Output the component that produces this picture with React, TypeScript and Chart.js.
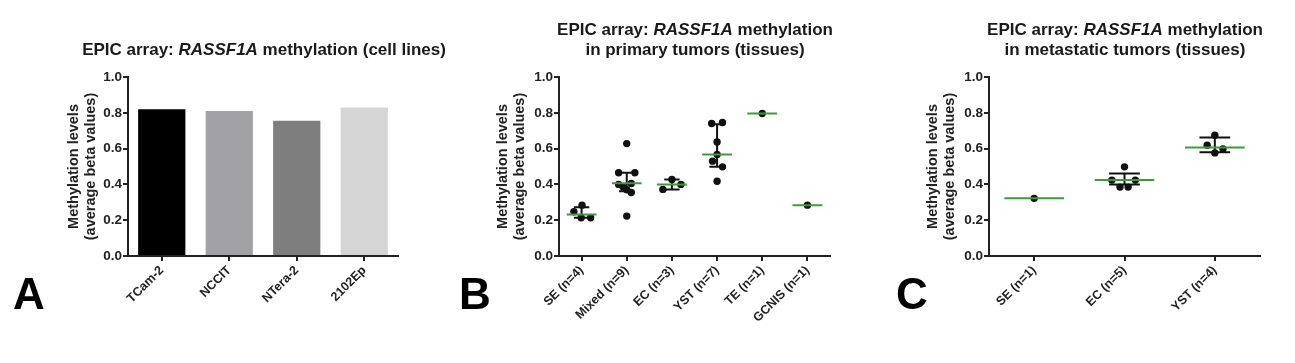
import React, { useEffect, useRef } from 'react';
import { Chart, registerables } from 'chart.js';

Chart.register(...registerables);

// ---------- data ----------
const cellLines = ['TCam-2', 'NCCIT', 'NTera-2', '2102Ep'];
const cellLineValues = [0.82, 0.81, 0.756, 0.83];
const cellLineColors = ['#000000', '#a2a2a6', '#7e7e7e', '#d5d5d5'];

const primaryCategories = ['SE (n=4)', 'Mixed (n=9)', 'EC (n=3)', 'YST (n=7)', 'TE (n=1)', 'GCNIS (n=1)'];
const primaryValues = [
  [0.247, 0.284, 0.214, 0.214],
  [0.628, 0.465, 0.465, 0.405, 0.4, 0.385, 0.37, 0.355, 0.223],
  [0.428, 0.4, 0.372],
  [0.74, 0.746, 0.637, 0.567, 0.53, 0.498, 0.418],
  [0.796],
  [0.284],
];
const primaryJitter = [
  [-0.17, 0.01, -0.01, 0.2],
  [0, -0.18, 0.18, 0.1, -0.18, -0.08, 0.0, 0.1, 0],
  [0, 0.2, -0.2],
  [-0.12, 0.12, 0, 0, -0.1, 0.12, 0],
  [0],
  [0],
];
const primaryMedians = [0.232, 0.407, 0.4, 0.567, 0.796, 0.284];
const primaryLower = [0.214, 0.362, 0.372, 0.498, null, null];
const primaryUpper = [0.272, 0.465, 0.428, 0.736, null, null];

const metastaticCategories = ['SE (n=1)', 'EC (n=5)', 'YST (n=4)'];
const metastaticValues = [
  [0.322],
  [0.498, 0.424, 0.424, 0.385, 0.385],
  [0.675, 0.619, 0.598, 0.576],
];
const metastaticJitter = [
  [0],
  [0, -0.14, 0.12, -0.05, 0.04],
  [0, -0.085, 0.09, 0],
];
const metastaticMedians = [0.322, 0.424, 0.606];
const metastaticLower = [null, 0.4, 0.58];
const metastaticUpper = [null, 0.461, 0.662];

const yAxisTitle = ['Methylation levels', '(average beta values)'];

// ---------- styles ----------
const FONT = "'Liberation Sans', Arial, sans-serif";
const AXIS = '#222222';
const GREEN = '#3c9c3c';
const MEDIAN_HALF = 0.33;
const CAP_HALF = 0.17;

function yScale(width: number) {
  return {
    min: 0,
    max: 1,
    ticks: {
      stepSize: 0.2,
      callback: (v: any) => Number(v).toFixed(1),
      color: AXIS,
      font: { family: FONT, size: 13.5, weight: 'bold' },
      padding: 1,
    },
    grid: { display: true, drawOnChartArea: false, drawTicks: true, tickLength: 5, color: AXIS, lineWidth: 2 },
    border: { display: true, color: AXIS, width: 2 },
    title: {
      display: true,
      text: yAxisTitle,
      color: AXIS,
      font: { family: FONT, size: 14.5, weight: 'bold', lineHeight: 1.17 },
      padding: { top: 5.5, bottom: 0 },
    },
    afterFit: (s: any) => {
      s.width = width;
    },
  };
}

function xTickStyle() {
  return {
    color: AXIS,
    font: { family: FONT, size: 12.5, weight: 'bold' },
    minRotation: 45,
    maxRotation: 45,
    autoSkip: false,
    padding: 2,
  };
}

function dotPlotConfig(
  categories: string[],
  values: number[][],
  jitter: number[][],
  medians: number[],
  lower: (number | null)[],
  upper: (number | null)[],
  padLeft: number,
  padRight: number
): any {
  const points: any[] = [];
  values.forEach((grp, i) => grp.forEach((v, j) => points.push({ x: i + jitter[i][j], y: v })));
  const medianSegs: any[] = [];
  medians.forEach((m, i) => {
    medianSegs.push({ x: i - MEDIAN_HALF, y: m }, { x: i + MEDIAN_HALF, y: m }, { x: i, y: null });
  });
  const errSegs: any[] = [];
  categories.forEach((_, i) => {
    const lo = lower[i];
    const hi = upper[i];
    if (lo == null || hi == null) return;
    errSegs.push({ x: i, y: lo }, { x: i, y: hi }, { x: i, y: null });
    errSegs.push({ x: i - CAP_HALF, y: hi }, { x: i + CAP_HALF, y: hi }, { x: i, y: null });
    errSegs.push({ x: i - CAP_HALF, y: lo }, { x: i + CAP_HALF, y: lo }, { x: i, y: null });
  });
  return {
    type: 'scatter',
    data: {
      datasets: [
        {
          data: medianSegs,
          showLine: true,
          spanGaps: false,
          borderColor: GREEN,
          borderWidth: 2,
          pointRadius: 0,
        },
        {
          data: errSegs,
          showLine: true,
          spanGaps: false,
          borderColor: '#111111',
          borderWidth: 2,
          pointRadius: 0,
        },
        {
          data: points,
          showLine: false,
          pointRadius: 3.7,
          pointBackgroundColor: '#111111',
          pointBorderWidth: 0,
        },
      ],
    },
    options: {
      responsive: false,
      animation: false,
      events: [],
      layout: { padding: { left: padLeft, top: 77, right: padRight, bottom: 0 } },
      plugins: { legend: { display: false }, tooltip: { enabled: false }, title: { display: false } },
      scales: {
        x: {
          type: 'linear',
          min: -0.5,
          max: categories.length - 0.5,
          afterBuildTicks: (s: any) => {
            s.ticks = categories.map((_, i) => ({ value: i }));
          },
          ticks: { ...xTickStyle(), callback: (v: any) => categories[Math.round(Number(v))] ?? '' },
          grid: { display: true, drawOnChartArea: false, drawTicks: true, tickLength: 5, color: AXIS, lineWidth: 2 },
          border: { display: true, color: AXIS, width: 2 },
          afterFit: (s: any) => {
            s.height = 107;
          },
        },
        y: yScale(70),
      },
    },
  };
}

export default function App() {
  const refA = useRef<HTMLCanvasElement>(null);
  const refB = useRef<HTMLCanvasElement>(null);
  const refC = useRef<HTMLCanvasElement>(null);

  useEffect(() => {
    const charts: Chart[] = [];
    if (refA.current) {
      charts.push(
        new Chart(refA.current, {
          type: 'bar',
          data: {
            labels: cellLines,
            datasets: [
              {
                data: cellLineValues,
                backgroundColor: cellLineColors,
                borderWidth: 0,
                barPercentage: 0.7,
                categoryPercentage: 1,
              },
            ],
          },
          options: {
            responsive: false,
            animation: false,
            events: [],
            layout: { padding: { left: 60, top: 77, right: 32, bottom: 0 } },
            plugins: { legend: { display: false }, tooltip: { enabled: false } },
            scales: {
              x: {
                type: 'category',
                offset: true,
                ticks: xTickStyle() as any,
                grid: { display: true, offset: false, drawOnChartArea: false, drawTicks: true, tickLength: 5, color: AXIS, lineWidth: 2 },
                border: { display: true, color: AXIS, width: 2 },
                afterFit: (s: any) => {
                  s.height = 107;
                },
              },
              y: yScale(68) as any,
            },
          },
        } as any)
      );
    }
    if (refB.current) {
      charts.push(
        new Chart(
          refB.current,
          dotPlotConfig(primaryCategories, primaryValues, primaryJitter, primaryMedians, primaryLower, primaryUpper, 49, 50)
        )
      );
    }
    if (refC.current) {
      charts.push(
        new Chart(
          refC.current,
          dotPlotConfig(metastaticCategories, metastaticValues, metastaticJitter, metastaticMedians, metastaticLower, metastaticUpper, 39, 35)
        )
      );
    }
    return () => charts.forEach((c) => c.destroy());
  }, []);

  const titleStyle: React.CSSProperties = {
    position: 'absolute',
    fontFamily: FONT,
    fontWeight: 'bold',
    fontSize: 17,
    lineHeight: '19.5px',
    color: '#1a1a1a',
    textAlign: 'center',
    whiteSpace: 'nowrap',
    transform: 'translateX(-50%)',
  };
  const letterStyle: React.CSSProperties = {
    position: 'absolute',
    fontFamily: FONT,
    fontWeight: 'bold',
    fontSize: 44,
    lineHeight: '44px',
    color: '#000',
  };

  return (
    <div style={{ position: 'fixed', left: 0, top: 0, width: 1295, height: 363, background: '#fff', overflow: 'hidden' }}>
      <canvas ref={refA} width={430} height={363} style={{ position: 'absolute', left: 0, top: 0 }} />
      <canvas ref={refB} width={440} height={363} style={{ position: 'absolute', left: 440, top: 0 }} />
      <canvas ref={refC} width={415} height={363} style={{ position: 'absolute', left: 880, top: 0 }} />

      <div style={{ ...titleStyle, left: 264, top: 40 }}>
        EPIC array: <i>RASSF1A</i> methylation (cell lines)
      </div>
      <div style={{ ...titleStyle, left: 695, top: 20 }}>
        EPIC array: <i>RASSF1A</i> methylation
        <br />
        in primary tumors (tissues)
      </div>
      <div style={{ ...titleStyle, left: 1125, top: 20 }}>
        EPIC array: <i>RASSF1A</i> methylation
        <br />
        in metastatic tumors (tissues)
      </div>

      <div style={{ ...letterStyle, left: 13, top: 272 }}>A</div>
      <div style={{ ...letterStyle, left: 459, top: 272 }}>B</div>
      <div style={{ ...letterStyle, left: 896, top: 272 }}>C</div>
    </div>
  );
}
